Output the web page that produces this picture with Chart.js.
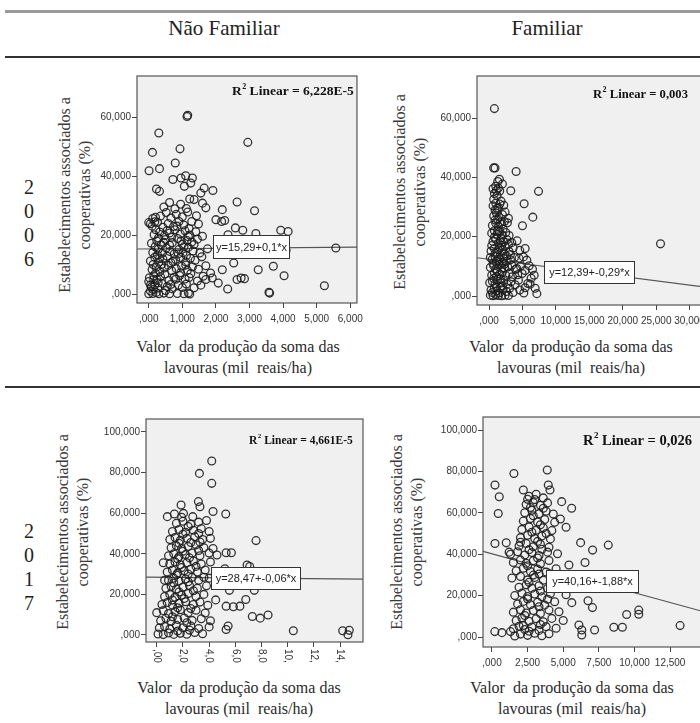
<!DOCTYPE html>
<html>
<head>
<meta charset="utf-8">
<script src="https://cdn.jsdelivr.net/npm/chart.js@4.4.1/dist/chart.umd.min.js"></script>
<style>
html, body { margin: 0; padding: 0; width: 700px; height: 723px; overflow: hidden; background: #fff; }
.serif { font-family: "Liberation Serif", "Times New Roman", serif; color: #222; }
.rule { position: absolute; left: 5px; width: 695px; }
.panel { position: absolute; }
.head { position: absolute; width: 200px; font-size: 21px; line-height: 24px; text-align: center; white-space: nowrap; }
.year { position: absolute; left: 19px; width: 20px; font-size: 20px; line-height: 24px; text-align: center; }
.ytitle { position: absolute; width: 260px; height: 40px; line-height: 20px; font-size: 16px; text-align: center;
          transform: rotate(-90deg); white-space: nowrap; color: #3a3a3a; }
.xtitle { position: absolute; width: 300px; line-height: 21px; font-size: 16px; text-align: center; white-space: nowrap; color: #2a2a2a; }
</style>
</head>
<body>
<div class="rule" style="top:10px;height:3px;background:#9a9a9a"></div>
<div class="rule" style="top:56px;height:2px;background:#333"></div>
<div class="rule" style="top:386px;height:2px;background:#333"></div>

<div class="head serif" style="left:124px;top:16px">Não Familiar</div>
<div class="head serif" style="left:447px;top:16px">Familiar</div>

<div class="year serif" style="top:175px">2<br>0<br>0<br>6</div>
<div class="year serif" style="top:519px">2<br>0<br>1<br>7</div>

<div class="ytitle serif" style="left:-55px;top:175px">Estabelecimentos associados a<br>cooperativas (%)</div>
<div class="ytitle serif" style="left:280px;top:172px">Estabelecimentos associados a<br>cooperativas (%)</div>
<div class="ytitle serif" style="left:-57px;top:512px">Estabelecimentos associados a<br>cooperativas (%)</div>
<div class="ytitle serif" style="left:277px;top:512px">Estabelecimentos associados a<br>cooperativas (%)</div>

<div class="xtitle serif" style="left:88px;top:336px">Valor&nbsp; da produção da soma das<br>lavouras (mil&nbsp; reais/ha)</div>
<div class="xtitle serif" style="left:421px;top:336px">Valor&nbsp; da produção da soma das<br>lavouras (mil&nbsp; reais/ha)</div>
<div class="xtitle serif" style="left:89px;top:677px">Valor&nbsp; da produção da soma das<br>lavouras (mil&nbsp; reais/ha)</div>
<div class="xtitle serif" style="left:422px;top:677px">Valor&nbsp; da produção da soma das<br>lavouras (mil&nbsp; reais/ha)</div>

<div class="panel" id="p1"><canvas id="c1"></canvas></div>
<div class="panel" id="p2"><canvas id="c2"></canvas></div>
<div class="panel" id="p3"><canvas id="c3"></canvas></div>
<div class="panel" id="p4"><canvas id="c4"></canvas></div>

<script>
// valor da produção (mil reais/ha) x estabelecimentos associados (%)
var naoFamiliar2006 = [
  [1.14,60.2],[1.16,60.6],[0.30,54.6],[0.11,48.0],[0.93,49.2],[0.01,41.8],[0.32,42.5],[2.95,51.4],[0.79,44.4],
  [0.23,35.6],[0.32,34.8],[0.72,38.8],[0.96,39.3],[1.10,40.1],[1.30,39.3],[1.25,37.6],[1.06,36.5],[1.35,32.0],
  [1.22,32.2],[1.65,35.9],[1.55,34.2],[1.91,35.1],[1.70,29.2],[1.60,30.8],[2.63,31.2],[3.15,28.2],[2.19,28.6],
  [2.00,25.2],[2.17,24.6],[2.26,24.9],[2.58,22.4],[2.80,21.6],[3.19,20.5],[3.93,21.6],[4.15,21.2],[2.36,20.1],
  [4.09,14.8],[5.57,15.6],[5.23,2.8],[3.58,0.6],[3.60,0.3],[3.26,8.2],[3.71,9.4],[4.03,6.2],[2.75,5.4],
  [2.85,5.2],[2.63,4.9],[2.35,1.7],[2.19,8.2],[2.53,10.5],[2.07,3.7],[1.89,5.4],[1.70,4.9],[1.84,7.1],
  [0.00,24.2],[0.05,23.8],[0.12,25.6],[0.20,26.0],[0.18,24.5],[0.00,4.2],[0.05,3.0],[0.00,0.1],
  [0.05,1.0],[0.12,0.2],[0.22,0.5],[0.30,0.1],[0.45,0.3],[0.62,0.1],[0.85,0.2],[1.05,0.1],[1.18,0.3],[1.22,0.0],
  [0.08,2.4],[0.18,3.1],[0.27,2.0],[0.40,3.6],[0.55,2.5],[0.70,1.8],[0.88,3.0],[1.00,2.2],[1.12,3.4],[1.35,2.1],[1.55,3.0],
  [0.02,5.5],[0.15,6.2],[0.25,4.8],[0.35,5.9],[0.48,6.8],[0.60,4.6],[0.75,5.7],[0.92,6.3],[1.08,5.1],[1.25,6.9],[1.45,4.4],[1.62,6.0],
  [0.10,8.3],[0.22,9.1],[0.33,7.6],[0.46,8.8],[0.58,9.7],[0.68,7.9],[0.82,8.6],[0.98,9.4],[1.15,8.0],[1.30,9.2],[1.48,8.4],[1.70,9.6],
  [0.05,11.2],[0.18,12.5],[0.30,10.8],[0.42,11.9],[0.55,12.8],[0.66,10.6],[0.80,11.7],[0.95,12.4],[1.10,10.9],[1.24,12.1],[1.38,11.4],[1.58,12.6],
  [0.12,14.1],[0.28,15.2],[0.40,13.8],[0.52,15.6],[0.63,14.4],[0.76,13.6],[0.90,15.1],[1.02,14.0],[1.18,15.8],[1.32,14.6],[1.52,13.9],[1.75,15.3],
  [0.08,17.2],[0.24,18.0],[0.37,16.7],[0.50,18.5],[0.70,17.4],[0.86,18.8],[1.00,16.9],[1.14,18.1],[1.28,17.6],[1.45,18.6],
  [0.16,20.1],[0.33,21.0],[0.47,19.8],[0.62,20.7],[0.78,21.8],[0.94,20.3],[1.08,21.4],[1.22,20.0],[1.40,21.1],[1.60,19.6],
  [0.10,23.0],[0.26,24.3],[0.42,22.6],[0.58,23.9],[0.74,22.9],[0.90,24.6],[1.04,23.4],[1.20,22.2],[1.48,23.7],
  [0.35,26.4],[0.52,27.6],[0.66,25.8],[0.82,27.0],[1.00,26.2],[1.16,27.8],[1.42,26.5],
  [0.45,29.5],[0.62,31.0],[0.78,28.9],[0.95,30.4],[1.12,29.0],
  [0.14,1.5],[0.28,3.8],[0.20,7.0],[0.13,10.0],[0.26,13.2],[0.19,16.0],[0.29,19.0],[0.21,21.8],[0.15,5.0],[0.32,12.0],
  [0.65,3.2],[0.80,5.0],[0.95,7.2],[1.10,9.8],[0.72,11.0],[0.88,13.6],[1.05,16.0],[0.68,19.2],[1.18,19.4],[0.84,23.0],
  [1.28,24.6],[1.12,13.0],[0.62,16.5],[1.35,16.8],[0.55,21.5],[0.96,18.0],[1.20,5.6],[0.50,1.2],[0.38,10.0],[0.44,17.5]
];

var familiar2006 = [
  [0.8,63.2],[0.7,43.2],[0.9,43.2],[4.05,42.0],[7.4,35.3],[3.25,35.5],[5.25,31.1],[6.55,26.6],[5.0,23.7],
  [2.9,26.2],[2.75,24.7],[1.55,39.4],[25.65,17.6],[5.4,16.0],[5.15,13.2],[5.65,12.1],[7.15,0.8],[6.75,7.0],
  [6.15,4.0],[5.4,2.8],[4.4,5.3],[4.95,7.6],[4.15,9.3],
  [0.2,0.3],[0.6,0.1],[1.0,0.4],[1.4,0.2],[1.9,0.1],[2.4,0.3],[2.9,0.2],
  [0.3,2.0],[0.8,2.6],[1.2,1.8],[1.7,2.9],[2.1,2.2],[2.6,1.5],[3.1,2.6],[3.6,1.2],
  [0.1,4.5],[0.5,5.0],[0.9,4.1],[1.3,5.6],[1.8,4.4],[2.2,5.2],[2.7,4.0],[3.3,4.8],[3.9,3.8],
  [0.4,7.0],[0.8,7.8],[1.1,6.6],[1.6,7.4],[2.0,8.1],[2.5,6.9],[3.0,7.6],[3.5,6.5],[4.3,7.2],
  [0.2,9.6],[0.7,10.2],[1.0,9.1],[1.5,10.6],[1.9,9.4],[2.3,10.8],[2.8,9.8],[3.4,10.4],[4.0,9.0],[4.7,10.0],
  [0.5,12.4],[0.9,13.3],[1.3,12.0],[1.7,13.8],[2.2,12.6],[2.6,13.5],[3.2,12.2],[3.8,13.0],[4.5,12.7],
  [0.3,15.2],[0.8,16.0],[1.2,14.8],[1.6,16.4],[2.0,15.4],[2.4,16.8],[3.0,15.0],[3.6,16.2],[4.6,15.4],
  [0.6,18.4],[1.0,19.2],[1.4,17.8],[1.8,19.6],[2.2,18.3],[2.7,19.0],[3.4,18.0],[4.2,18.6],
  [0.4,21.2],[0.8,22.0],[1.2,20.8],[1.6,21.7],[2.0,20.6],[2.5,21.4],[3.0,20.4],
  [0.5,23.8],[1.0,24.6],[1.4,23.4],[1.9,24.2],[2.3,25.1],
  [0.7,27.0],[1.1,28.0],[1.5,26.6],[2.0,27.5],[2.4,28.3],
  [0.6,30.4],[1.0,31.3],[1.4,29.8],[1.8,32.0],[2.2,30.6],
  [0.8,34.6],[1.2,33.8],[1.6,35.4],[1.0,37.0],[1.4,36.4],[2.0,37.8],
  [4.6,2.0],[5.2,1.0],[5.8,4.2],[6.3,6.0],[6.9,2.6],[5.4,8.6],[6.0,10.2],[6.5,9.0],
  [0.5,1.2],[1.1,3.0],[1.5,1.0],[2.0,3.4],[0.7,5.9],[1.2,8.4],[1.7,5.8],[2.3,9.4],[0.6,11.0],[1.1,11.6],
  [1.6,12.6],[2.0,11.2],[0.9,14.3],[1.4,15.6],[1.9,17.0],[2.3,14.2],[0.8,19.8],[1.3,21.8],[1.7,18.6],[2.1,22.6],
  [0.9,25.6],[1.3,26.0],[1.7,24.8],[0.9,29.0],[1.2,29.6],[1.6,31.0],[0.7,32.6],[1.1,35.6],[1.3,38.6],[0.6,36.2],
  [2.6,11.6],[2.9,17.4],[3.2,14.0],[0.4,17.0],[0.2,13.0]
];

var naoFamiliar2017 = [
  [4.2,85.7],[3.26,79.6],[4.2,74.7],[1.86,64.0],[3.18,65.7],[3.3,63.2],[4.3,60.8],[5.27,59.6],[0.81,58.3],
  [1.35,59.6],[2.04,59.9],[2.75,58.3],[7.58,46.5],[5.7,40.5],[5.3,40.5],[6.9,34.5],[7.1,33.7],[10.43,2.1],
  [14.2,2.1],[14.7,2.3],[14.6,0.1],[8.5,9.85],[7.9,8.3],[7.3,9.1],[6.8,17.5],[6.35,14.2],[5.85,13.9],
  [5.3,14.2],[5.45,4.4],[5.3,2.7],[4.5,17.3],[5.55,22.0],[7.45,22.0],
  [0.1,0.5],[0.5,0.2],[0.9,1.0],[1.3,0.3],[1.8,0.8],[2.3,0.4],[2.9,1.2],[3.5,0.6],
  [0.2,3.5],[0.6,4.2],[1.0,3.0],[1.5,4.8],[2.0,3.6],[2.6,4.4],[3.2,3.2],[4.0,4.0],
  [0.3,7.0],[0.7,8.2],[1.1,6.8],[1.6,7.6],[2.1,8.4],[2.7,7.2],[3.4,8.0],[4.1,7.0],
  [0.0,11.0],[0.5,12.0],[0.9,10.6],[1.4,11.6],[1.8,12.4],[2.4,11.0],[3.0,12.2],[3.7,10.8],
  [0.4,15.0],[0.8,16.0],[1.2,14.6],[1.7,15.6],[2.2,16.4],[2.8,15.0],[3.3,16.2],[3.9,14.6],
  [0.6,19.0],[1.0,20.0],[1.4,18.6],[1.9,19.6],[2.4,20.4],[3.0,19.0],[3.6,20.0],
  [0.7,23.0],[1.1,24.0],[1.5,22.6],[2.0,23.6],[2.5,24.4],[3.1,23.0],[3.8,24.2],
  [0.9,27.0],[1.3,28.0],[1.7,26.6],[2.2,27.6],[2.7,28.4],[3.2,27.0],[4.0,28.0],[4.8,26.8],
  [0.8,31.0],[1.2,32.0],[1.6,30.6],[2.1,31.6],[2.6,32.4],[3.1,31.0],[3.7,32.0],[5.2,32.6],
  [1.0,35.0],[1.4,36.0],[1.8,34.6],[2.3,35.6],[2.8,36.4],[3.4,35.0],[4.1,36.0],
  [0.9,39.0],[1.3,40.0],[1.7,38.6],[2.2,39.6],[2.7,40.4],[3.3,39.0],[4.0,40.4],[4.6,39.4],
  [1.1,43.0],[1.5,44.0],[1.9,42.6],[2.4,43.6],[3.0,44.4],[3.6,43.0],[4.3,42.6],
  [1.0,47.0],[1.4,48.0],[1.8,46.6],[2.3,47.6],[2.9,48.4],[3.5,47.0],[4.1,47.6],
  [1.2,51.0],[1.7,52.0],[2.2,50.6],[2.8,51.6],[3.4,52.4],[4.0,51.0],
  [1.5,55.0],[2.0,56.0],[2.6,54.6],[3.2,55.6],[3.8,56.4],
  [1.6,2.0],[2.5,2.4],[1.2,9.0],[2.3,6.0],[1.6,13.4],[2.6,13.0],[1.2,17.2],[2.1,18.0],[1.7,21.2],[2.8,21.8],
  [1.3,25.6],[2.4,26.2],[1.5,29.6],[2.4,30.0],[1.9,33.2],[3.0,33.8],[1.6,37.6],[2.5,38.0],[2.0,41.2],[3.2,41.6],
  [1.7,45.2],[2.6,45.6],[2.0,49.6],[3.2,50.0],[2.4,53.4],[1.9,58.0],[3.6,28.4],[3.3,45.8],[0.6,27.0],[0.5,35.6]
];

var familiar2017 = [
  [3.88,80.7],[1.54,79.0],[0.21,73.4],[0.51,67.8],[0.44,59.7],[0.21,45.2],[3.95,73.4],[4.07,71.0],[4.89,65.4],
  [5.59,62.2],[8.16,44.4],[6.22,45.6],[7.06,42.0],[6.53,36.0],[13.2,5.5],[9.45,10.9],[10.3,13.0],[10.3,11.0],
  [8.55,4.7],[9.15,4.7],[7.2,3.4],[6.3,1.0],[6.3,3.4],[6.1,5.8],[0.2,2.6],[0.7,2.1],[1.3,2.6],[7.05,14.2],
  [6.74,17.5],[5.6,16.6],[1.0,45.5],[1.2,41.0],[5.2,53.0],[4.8,57.0],
  [1.6,0.5],[2.0,1.4],[2.5,0.8],[3.0,1.8],[3.5,0.6],[4.0,1.6],
  [1.5,4.0],[1.9,5.2],[2.3,3.6],[2.8,4.8],[3.3,3.2],[3.8,5.0],[4.5,4.2],
  [1.7,8.0],[2.1,9.2],[2.6,7.6],[3.1,8.8],[3.6,7.4],[4.2,9.0],[5.0,8.0],
  [1.5,12.0],[2.0,13.2],[2.4,11.6],[2.9,12.8],[3.4,11.4],[4.0,13.0],[4.7,12.2],
  [1.8,16.0],[2.2,17.2],[2.7,15.6],[3.2,16.8],[3.7,15.4],[4.4,17.0],
  [1.6,20.0],[2.1,21.2],[2.5,19.6],[3.0,20.8],[3.5,19.4],[4.1,21.0],[5.2,20.4],
  [1.9,24.0],[2.4,25.2],[2.8,23.6],[3.3,24.8],[3.9,23.4],[4.6,25.0],
  [1.4,28.5],[2.0,29.2],[2.5,27.6],[3.0,28.8],[3.6,27.4],[4.3,29.0],
  [1.7,32.0],[2.2,33.2],[2.7,31.6],[3.2,32.8],[3.8,31.4],[4.5,33.0],[5.4,34.8],
  [1.5,36.0],[2.0,37.2],[2.4,35.6],[2.9,36.8],[3.4,35.4],[4.0,37.0],
  [1.3,40.0],[1.8,41.2],[2.3,39.6],[2.8,40.8],[3.3,39.4],[3.9,41.0],[4.6,40.2],
  [1.9,44.0],[2.4,45.2],[2.9,43.6],[3.4,44.8],[4.0,43.4],
  [2.0,48.0],[2.5,49.2],[3.0,47.6],[3.5,48.8],[4.1,47.4],
  [2.1,52.0],[2.6,53.2],[3.1,51.6],[3.6,52.8],[4.2,51.4],
  [2.2,56.0],[2.7,57.2],[3.2,55.6],[3.7,56.8],[4.4,55.4],
  [2.3,60.0],[2.8,61.2],[3.3,59.6],[3.8,60.8],[4.3,59.4],
  [2.4,64.0],[2.9,65.0],[3.4,63.6],[3.9,64.8],
  [2.6,68.0],[3.1,69.0],[2.2,71.0],[2.5,66.5],
  [2.6,2.8],[3.4,6.0],[2.3,10.4],[3.3,14.6],[2.5,18.4],[3.4,22.2],[2.6,26.4],[3.3,30.4],[2.5,34.4],[3.2,38.2],
  [2.6,42.2],[3.2,46.2],[2.8,50.6],[3.4,54.2],[2.9,58.6],[3.6,62.2],[3.0,66.4],[3.6,67.2],[2.7,62.6],[3.5,42.4],
  [3.8,50.0],[2.9,29.9],[2.2,5.6],[3.9,18.2],[2.0,45.8]
];

// regression fits (intercept, slope) and their labels
var intercepts = [15.29, 12.39, 28.47, 40.16];
var slopes = [0.1, -0.29, -0.06, -1.88];
var eqLabels = ['y=15,29+0,1*x', 'y=12,39+-0,29*x', 'y=28,47+-0,06*x', 'y=40,16+-1,88*x'];
var r2Labels = ['6,228E-5', '0,003', '4,661E-5', '0,026'];

// tick values and labels
var yTicks2006 = [0, 20, 40, 60];
var yLabels2006 = [',000', '20,000', '40,000', '60,000'];
var yTicks2017 = [0, 20, 40, 60, 80, 100];
var yLabels2017 = [',000', '20,000', '40,000', '60,000', '80,000', '100,000'];
var xTicksNF2006 = [0, 1, 2, 3, 4, 5, 6];
var xLabelsNF2006 = [',000', '1,000', '2,000', '3,000', '4,000', '5,000', '6,000'];
var xTicksF2006 = [0, 5, 10, 15, 20, 25, 30];
var xLabelsF2006 = [',000', '5,000', '10,000', '15,000', '20,000', '25,000', '30,000'];
var xTicksNF2017 = [0, 2, 4, 6, 8, 10, 12, 14];
var xLabelsNF2017 = [',00', '2,0', '4,0', '6,0', '8,0', '10,', '12,', '14,'];
var xTicksF2017 = [0, 2.5, 5, 7.5, 10, 12.5];
var xLabelsF2017 = [',000', '2,500', '5,000', '7,500', '10,000', '12,500'];

var Y_W = 45, X_H = 30, PAD_T = 8, PAD_R = 8;

var panels = [
  { points: naoFamiliar2006, area: {l: 137, t: 76, r: 360, b: 303}, xMin: -0.35, xMax: 6.2, yMin: -3.05, yMax: 73.9,
    xTicks: xTicksNF2006, xLabels: xLabelsNF2006, yTicks: yTicks2006, yLabels: yLabels2006,
    eqBox: [76, 159, 76, 23], r2: [95, 16, 13.5] },
  { points: familiar2006, area: {l: 477, t: 76, r: 715, b: 305}, xMin: -1.8, xMax: 33.8, yMin: -3.03, yMax: 74.2,
    xTicks: xTicksF2006, xLabels: xLabelsF2006, yTicks: yTicks2006, yLabels: yLabels2006,
    eqBox: [67, 185, 90, 22], r2: [116, 19, 12.6] },
  { points: naoFamiliar2017, area: {l: 146, t: 419, r: 363, b: 642}, xMin: -0.82, xMax: 15.75, yMin: -3.45, yMax: 106.4,
    xTicks: xTicksNF2017, xLabels: xLabelsNF2017, yTicks: yTicks2017, yLabels: yLabels2017, vertical: true,
    eqBox: [65, 148, 89, 22], r2: [103, 22, 11.5] },
  { points: familiar2017, area: {l: 483, t: 417, r: 715, b: 647}, xMin: -0.63, xMax: 15.65, yMin: -4.83, yMax: 106.3,
    xTicks: xTicksF2017, xLabels: xLabelsF2017, yTicks: yTicks2017, yLabels: yLabels2017,
    eqBox: [63, 153, 92, 22], r2: [100, 24, 14.5] }
];

function decoPlugin(p, i) {
  return {
    id: 'deco' + i,
    beforeDraw: function(chart) {
      var ctx = chart.ctx, a = chart.chartArea;
      ctx.save();
      ctx.fillStyle = '#f0f0f0';
      ctx.fillRect(a.left, a.top, a.right - a.left, a.bottom - a.top);
      ctx.restore();
    },
    beforeDatasetsDraw: function(chart) {
      var ctx = chart.ctx, a = chart.chartArea;
      ctx.save();
      ctx.strokeStyle = '#555';
      ctx.lineWidth = 1.2;
      ctx.strokeRect(a.left, a.top, a.right - a.left, a.bottom - a.top);
      ctx.restore();
    },
    afterDatasetsDraw: function(chart) {
      var ctx = chart.ctx, a = chart.chartArea;
      ctx.save();
      // equation label
      var bx = a.left + p.eqBox[0], by = a.top + p.eqBox[1], bw = p.eqBox[2], bh = p.eqBox[3];
      ctx.fillStyle = '#fff';
      ctx.fillRect(bx, by, bw, bh);
      ctx.strokeStyle = '#333';
      ctx.lineWidth = 1;
      ctx.strokeRect(bx + 0.5, by + 0.5, bw, bh);
      ctx.fillStyle = '#222';
      ctx.font = '11px "Liberation Sans", Arial, sans-serif';
      ctx.textAlign = 'center';
      ctx.textBaseline = 'middle';
      ctx.fillText(eqLabels[i], bx + bw / 2 + 0.5, by + bh / 2 + 1);
      // R2 label
      var size = p.r2[2];
      var x = a.left + p.r2[0], y = a.top + p.r2[1];
      ctx.textAlign = 'left';
      ctx.fillStyle = '#111';
      ctx.font = 'bold ' + size + 'px "Liberation Serif", "Times New Roman", serif';
      ctx.fillText('R', x, y);
      x += ctx.measureText('R').width + 0.5;
      ctx.font = 'bold ' + Math.round(size * 0.62) + 'px "Liberation Serif", "Times New Roman", serif';
      ctx.fillText('2', x, y - size * 0.38);
      x += ctx.measureText('2').width;
      ctx.font = 'bold ' + size + 'px "Liberation Serif", "Times New Roman", serif';
      ctx.fillText(' Linear = ' + r2Labels[i], x, y);
      ctx.restore();
    },
    afterDraw: function(chart) {
      if (!p.vertical) return;
      var ctx = chart.ctx, a = chart.chartArea, sx = chart.scales.x;
      ctx.save();
      ctx.fillStyle = '#333';
      ctx.font = '10px "Liberation Sans", Arial, sans-serif';
      ctx.textAlign = 'left';
      ctx.textBaseline = 'middle';
      p.xTicks.forEach(function(v, k) {
        ctx.save();
        ctx.translate(sx.getPixelForValue(v), a.bottom + 7);
        ctx.rotate(Math.PI / 2);
        ctx.fillText(p.xLabels[k], 0, 0);
        ctx.restore();
      });
      ctx.restore();
    }
  };
}

function makePanel(p, i) {
  var box = document.getElementById('p' + (i + 1));
  box.style.left = (p.area.l - Y_W) + 'px';
  box.style.top = (p.area.t - PAD_T) + 'px';
  box.style.width = (p.area.r + PAD_R - p.area.l + Y_W) + 'px';
  box.style.height = (p.area.b + X_H - p.area.t + PAD_T) + 'px';

  var fit = [
    {x: p.xMin, y: intercepts[i] + slopes[i] * p.xMin},
    {x: p.xMax, y: intercepts[i] + slopes[i] * p.xMax}
  ];
  var tickFont = {family: '"Liberation Sans", Arial, sans-serif', size: 10};
  var gridOpts = {drawOnChartArea: false, drawTicks: true, tickLength: 5, color: '#444', lineWidth: 1};

  new Chart(document.getElementById('c' + (i + 1)), {
    type: 'scatter',
    data: {
      datasets: [{
        data: p.points.map(function(d) { return {x: d[0], y: d[1]}; }),
        pointStyle: 'circle',
        pointRadius: 3.9,
        borderWidth: 1.3,
        borderColor: 'rgba(30,30,30,0.9)',
        backgroundColor: 'rgba(0,0,0,0)'
      }, {
        data: fit,
        showLine: true,
        pointRadius: 0,
        borderColor: '#555',
        borderWidth: 1.2
      }]
    },
    options: {
      responsive: true,
      maintainAspectRatio: false,
      animation: false,
      events: [],
      layout: {autoPadding: false, padding: {top: PAD_T, right: PAD_R, left: 0, bottom: 0}},
      plugins: {legend: {display: false}, tooltip: {enabled: false}},
      scales: {
        x: {
          type: 'linear', min: p.xMin, max: p.xMax,
          afterBuildTicks: function(axis) { axis.ticks = p.xTicks.map(function(v) { return {value: v}; }); },
          afterFit: function(s) { s.height = X_H; },
          ticks: {display: !p.vertical, autoSkip: false, maxRotation: 0, minRotation: 0, padding: 5, color: '#333', font: tickFont,
                  callback: function(v, k) { return p.xLabels[k]; }},
          grid: gridOpts,
          border: {display: false}
        },
        y: {
          type: 'linear', min: p.yMin, max: p.yMax,
          afterBuildTicks: function(axis) { axis.ticks = p.yTicks.map(function(v) { return {value: v}; }); },
          afterFit: function(s) { s.width = Y_W; },
          ticks: {autoSkip: false, padding: 1, color: '#333', font: tickFont,
                  callback: function(v, k) { return p.yLabels[k]; }},
          grid: gridOpts,
          border: {display: false}
        }
      }
    },
    plugins: [decoPlugin(p, i)]
  });
}

panels.forEach(makePanel);
</script>
</body>
</html>
